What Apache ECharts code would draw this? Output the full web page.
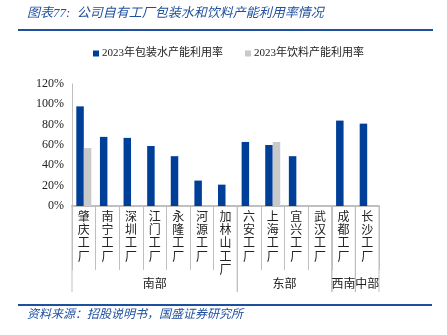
<!DOCTYPE html>
<html><head><meta charset="utf-8">
<script src="https://cdn.jsdelivr.net/npm/echarts@6/dist/echarts.min.js"></script>
<style>html,body{margin:0;padding:0;background:#fff}#c{width:447px;height:335px}</style>
</head><body><div id="c"></div>
<script>
const categories = ['肇庆工厂','南宁工厂','深圳工厂','江门工厂','永隆工厂','河源工厂','加林山工厂','六安工厂','上海工厂','宜兴工厂','武汉工厂','成都工厂','长沙工厂'];
const waterUtil = [98, 68, 67, 59, 49, 25, 21, 63, 60, 49, null, 84, 81];
const drinkUtil = [57, null, null, null, null, null, null, null, 63, null, null, null, null];
const groups = [{name:'南部', start:0, end:6},{name:'东部', start:7, end:10},{name:'西南', start:11, end:11},{name:'中部', start:12, end:12}];
const yTicks = [0, 20, 40, 60, 80, 100, 120];
const seriesNames = ['2023年包装水产能利用率','2023年饮料产能利用率'];

const serif = '"Liberation Serif","Times New Roman","Noto Sans CJK SC",serif';
const blue = '#003f98', gray = '#c9c9c9', lineBlue = '#1f4f9f';
const chart = echarts.init(document.getElementById('c'), null, {renderer:'canvas'});
const option = {
  animation:false,
  backgroundColor:'#fff',
  legend:{
    data:seriesNames, top:43, left:88, itemWidth:6, itemHeight:6, itemGap:22,
    icon:'rect', textStyle:{fontFamily:serif, fontSize:11, color:'#222', padding:[0,0,0,-2]}
  },
  grid:{left:72, right:68, top:84, bottom:129},
  xAxis:{
    type:'category', data:categories,
    axisLine:{lineStyle:{color:'#bfbfbf', width:2}},
    axisTick:{show:true, length:64, lineStyle:{color:'#bfbfbf', width:1}},
    axisLabel:{interval:0, margin:5, fontFamily:serif, fontSize:12, color:'#222', lineHeight:13.3,
      formatter:v=>v.split('').join('\n'), verticalAlign:'top'}
  },
  yAxis:{
    type:'value', min:yTicks[0], max:yTicks[yTicks.length-1], interval:20,
    splitLine:{show:false},
    axisLine:{show:true, lineStyle:{color:'#bfbfbf', width:1}},
    axisTick:{show:false},
    axisLabel:{formatter:'{value}%', fontFamily:serif, fontSize:12, color:'#222', margin:8}
  },
  series:[
    {name:seriesNames[0], type:'bar', data:waterUtil, barWidth:7.5, barGap:'0%', itemStyle:{color:blue}},
    {name:seriesNames[1], type:'bar', data:drinkUtil, barWidth:7.5, barGap:'0%', itemStyle:{color:gray}}
  ]
};
chart.setOption(option);

function place(){
  const x0 = chart.convertToPixel({xAxisIndex:0}, 0);
  const x1 = chart.convertToPixel({xAxisIndex:0}, 1);
  const w = x1 - x0;
  const yBase = chart.convertToPixel({yAxisIndex:0}, 0);
  const els = [];
  els.push({type:'text', left:27, top:7, style:{text:'图表77:  公司自有工厂包装水和饮料产能利用率情况', fill:lineBlue, font:'italic 13px "Liberation Serif","Noto Sans CJK SC",serif'}});
  els.push({type:'line', shape:{x1:18, y1:30, x2:433, y2:30}, style:{stroke:lineBlue, lineWidth:2}});
  els.push({type:'line', shape:{x1:18, y1:305, x2:432, y2:305}, style:{stroke:lineBlue, lineWidth:2}});
  els.push({type:'text', left:27, top:309, style:{text:'资料来源：招股说明书，国盛证券研究所', fill:lineBlue, font:'italic 12px "Liberation Serif","Noto Sans CJK SC",serif'}});
  groups.forEach(g=>{
    const left = x0 - w/2 + g.start*w;
    const right = x0 - w/2 + (g.end+1)*w;
    els.push({type:'line', shape:{x1:left, y1:yBase, x2:left, y2:yBase+86}, style:{stroke:'#bfbfbf', lineWidth:1}});
    els.push({type:'line', shape:{x1:right, y1:yBase, x2:right, y2:yBase+86}, style:{stroke:'#bfbfbf', lineWidth:1}});
    els.push({type:'text', x:(left+right)/2, y:yBase+79, style:{text:g.name, fill:'#222', font:'12px "Liberation Serif","Noto Sans CJK SC",serif', textAlign:'center', textVerticalAlign:'middle'}});
  });
  chart.setOption({graphic:els});
}
place();
</script>
</body></html>
